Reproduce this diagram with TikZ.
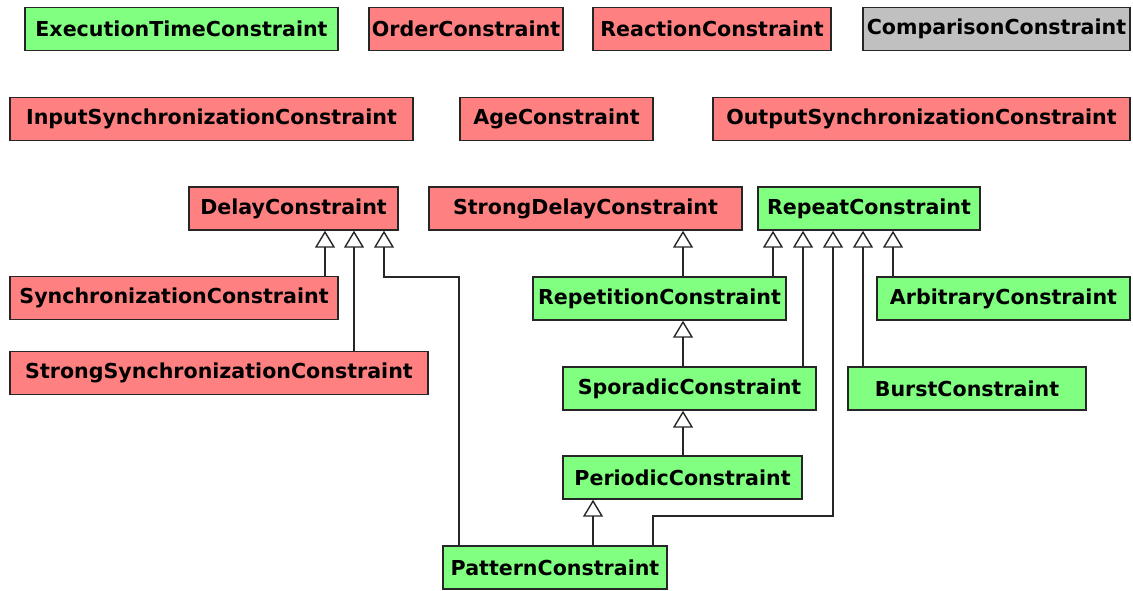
\documentclass[tikz,border=0pt]{standalone}
\usepackage{fontspec}
\setmainfont{DejaVu Sans}
\usetikzlibrary{arrows.meta}
\definecolor{cG}{HTML}{80FF80}
\definecolor{cR}{HTML}{FF8080}
\definecolor{cN}{HTML}{C0C0C0}

\tikzset{
    cbox/.style={draw=black!85, line width=0.7pt, minimum height=21.5pt, inner sep=0pt,
        font=\fontsize{10.3}{12}\selectfont\bfseries},
    gbox/.style={cbox, fill=cG},
    rbox/.style={cbox, fill=cR},
    nbox/.style={cbox, fill=cN},
    bw/.style={minimum width=#1*0.5pt},
    inherit/.style={draw=black!85, line width=0.7pt,
        -{Triangle[open, width=10pt, length=8.5pt]}}
}

\begin{document}
\begin{tikzpicture}[x=0.5pt, y=-0.5pt]
    \useasboundingbox (0,0) rectangle (1133,590);

    % Unrelated constraints
    \node[gbox, bw=313] (exec) at (181.5, 29) {ExecutionTimeConstraint};
    \node[rbox, bw=194] (order) at (466, 29) {OrderConstraint};
    \node[rbox, bw=238] (reaction) at (712, 29) {ReactionConstraint};
    \node[nbox, bw=267] (comparison) at (996.5, 29) {ComparisonConstraint};
    \node[rbox, bw=403] (inputsync) at (211.5, 119) {InputSynchronizationConstraint};
    \node[rbox, bw=193] (age) at (556.5, 119) {AgeConstraint};
    \node[rbox, bw=417] (outputsync) at (921.5, 119) {OutputSynchronizationConstraint};

    % Base classes
    \node[rbox, bw=209] (delay) at (293.5, 208.5) {DelayConstraint};
    \node[rbox, bw=313] (strongdelay) at (585.5, 208.5) {StrongDelayConstraint};
    \node[gbox, bw=222] (repeat) at (869, 208.5) {RepeatConstraint};

    % Derived classes
    \node[rbox, bw=328] (sync) at (174, 298) {SynchronizationConstraint};
    \node[gbox, bw=253] (repetition) at (659.5, 298.5) {RepetitionConstraint};
    \node[gbox, bw=253] (arbitrary) at (1003.5, 298.5) {ArbitraryConstraint};
    \node[rbox, bw=418] (strongsync) at (219, 373) {StrongSynchronizationConstraint};
    \node[gbox, bw=253] (sporadic) at (689.5, 388.5) {SporadicConstraint};
    \node[gbox, bw=238] (burst) at (967, 388.5) {BurstConstraint};
    \node[gbox, bw=239] (periodic) at (682.5, 477.5) {PeriodicConstraint};
    \node[gbox, bw=224] (pattern) at (555, 567.5) {PatternConstraint};

    % Inheritance to DelayConstraint
    \draw[inherit] (sync.north -| 325,0) -- (delay.south -| 325,0);
    \draw[inherit] (strongsync.north -| 354,0) -- (delay.south -| 354,0);
    \draw[inherit] (pattern.north -| 459,0) -- (459,277) -| (delay.south -| 384,0);

    % Inheritance to StrongDelayConstraint
    \draw[inherit] (repetition.north -| 683,0) -- (strongdelay.south -| 683,0);

    % Inheritance to RepeatConstraint
    \draw[inherit] (repetition.north -| 773,0) -- (repeat.south -| 773,0);
    \draw[inherit] (sporadic.north -| 803,0) -- (repeat.south -| 803,0);
    \draw[inherit] (pattern.north -| 653,0) -- (653,516) -| (repeat.south -| 833,0);
    \draw[inherit] (burst.north -| 863,0) -- (repeat.south -| 863,0);
    \draw[inherit] (arbitrary.north -| 893,0) -- (repeat.south -| 893,0);

    % Chain Repetition -> Sporadic -> Periodic -> Pattern
    \draw[inherit] (sporadic.north -| 683,0) -- (repetition.south -| 683,0);
    \draw[inherit] (periodic.north -| 683,0) -- (sporadic.south -| 683,0);
    \draw[inherit] (pattern.north -| 593,0) -- (periodic.south -| 593,0);
\end{tikzpicture}
\end{document}
